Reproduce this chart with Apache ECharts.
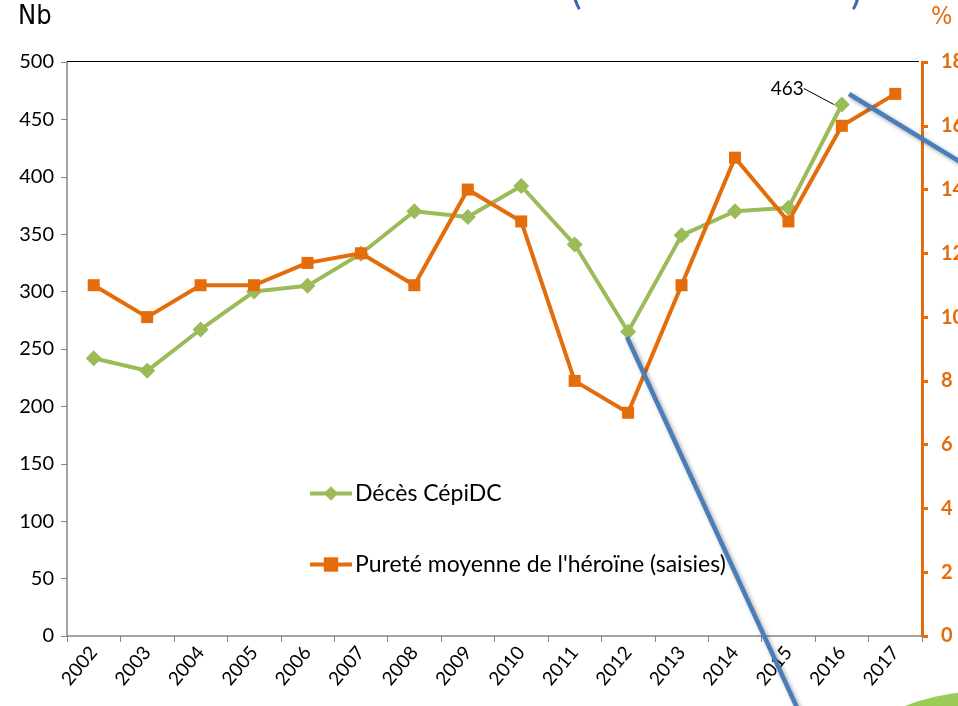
<!DOCTYPE html>
<html>
<head>
<meta charset="utf-8">
<script src="https://cdn.jsdelivr.net/npm/echarts@6/dist/echarts.min.js"></script>
<style>
html,body{margin:0;padding:0;background:#fff;}
#chart{width:958px;height:706px;}
</style>
</head>
<body>
<div id="chart"></div>
<script>
const years = ['2002','2003','2004','2005','2006','2007','2008','2009','2010','2011','2012','2013','2014','2015','2016','2017'];
const deces = [242, 231, 267, 300, 305, 333, 370, 365, 392, 341, 265, 349, 370, 373, 463, null];
const purete = [11, 10, 11, 11, 11.7, 12, 11, 14, 13, 8, 7, 11, 15, 13, 16, 17];
const leftTicks = [0, 500, 50];
const rightTicks = [0, 18, 2];
const labelledIndex = 14;

const GREEN = '#9BBB59';
const ORANGE = '#E46C0A';
const BLUE = '#4A7EBB';
const FONT = 'Lato';
const NARROW = '"Liberation Sans Narrow", "DejaVu Sans Condensed", "Liberation Sans", sans-serif';

const decesData = deces.map((v, i) => i === labelledIndex ? {
  value: v,
  label: { show: true, position: 'left', distance: 4, fontSize: 19, color: '#000', fontFamily: FONT, formatter: '{c}' },
  labelLine: { show: true, lineStyle: { color: '#000', width: 1 } }
} : v);

const chart = echarts.init(document.getElementById('chart'));
chart.setOption({
  animation: false,
  backgroundColor: '#fff',
  textStyle: { fontFamily: FONT },
  grid: { left: 67, right: 36, top: 62, bottom: 70, show: false, containLabel: false, outerBoundsMode: 'none' },
  legend: {
    orient: 'vertical',
    left: 303,
    top: 477,
    itemGap: 48,
    itemWidth: 42,
    itemHeight: 18,
    lineStyle: { width: 4 },
    textStyle: { fontFamily: FONT, fontSize: 23, color: '#000', padding: [0, 0, 0, -2] },
    data: ['Décès CépiDC', "Pureté moyenne de l'héroïne (saisies)"]
  },
  xAxis: {
    type: 'category',
    data: years,
    boundaryGap: true,
    axisLine: { lineStyle: { color: '#868686', width: 1.5 } },
    axisTick: { show: true, alignWithLabel: false, length: 6, lineStyle: { color: '#868686' } },
    axisLabel: { rotate: 50, fontSize: 19, color: '#000', fontFamily: FONT, margin: 13, interval: 0 },
    splitLine: { show: false }
  },
  yAxis: [
    {
      type: 'value',
      min: leftTicks[0], max: leftTicks[1], interval: leftTicks[2],
      axisLine: { show: true, lineStyle: { color: '#868686', width: 1.5 } },
      axisTick: { show: true, length: 6, lineStyle: { color: '#868686' } },
      axisLabel: { fontSize: 20, color: '#000', fontFamily: FONT, margin: 13 },
      splitLine: { show: false }
    },
    {
      type: 'value',
      min: rightTicks[0], max: rightTicks[1], interval: rightTicks[2],
      position: 'right',
      axisLine: { show: true, lineStyle: { color: ORANGE, width: 3 } },
      axisTick: { show: true, inside: false, length: 6, lineStyle: { color: ORANGE, width: 3 } },
      axisLabel: { fontSize: 20, fontWeight: 'bold', color: ORANGE, fontFamily: FONT, margin: 19 },
      splitLine: { show: false }
    }
  ],
  series: [
    {
      name: 'Décès CépiDC',
      type: 'line',
      yAxisIndex: 0,
      data: decesData,
      color: GREEN,
      symbol: 'diamond',
      symbolSize: 16,
      lineStyle: { width: 4, color: GREEN },
      itemStyle: { color: GREEN },
      labelLayout: function (p) {
        if (p.dataIndex === labelledIndex) return { dx: -26, dy: -16 };
        return {};
      },
      z: 3
    },
    {
      name: "Pureté moyenne de l'héroïne (saisies)",
      type: 'line',
      yAxisIndex: 1,
      data: purete,
      color: ORANGE,
      symbol: 'rect',
      symbolSize: 12,
      lineStyle: { width: 4, color: ORANGE },
      itemStyle: { color: ORANGE },
      z: 4
    }
  ],
  graphic: [
    { type: 'rect', left: 67, top: 61, shape: { width: 852, height: 1 }, style: { fill: '#000' }, silent: true, z: 50 },
    { type: 'text', left: 18, top: 3, style: { text: 'Nb', fontSize: 27, fill: '#000', fontFamily: NARROW }, z: 50 },
    { type: 'text', left: 931, top: 5, style: { text: '%', fontSize: 25, fill: ORANGE, fontFamily: NARROW }, z: 50 },
    { type: 'line', shape: { x1: 627, y1: 337, x2: 799, y2: 712 },
      style: { stroke: BLUE, lineWidth: 4.5, shadowColor: 'rgba(0,0,0,0.35)', shadowBlur: 4, shadowOffsetX: 2, shadowOffsetY: 2 }, z: 100 },
    { type: 'line', shape: { x1: 849, y1: 94, x2: 962, y2: 163 },
      style: { stroke: BLUE, lineWidth: 4.5, shadowColor: 'rgba(0,0,0,0.35)', shadowBlur: 4, shadowOffsetX: 2, shadowOffsetY: 2 }, z: 100 },
    { type: 'text', left: 571, top: -29, style: { text: '(', fontSize: 40, fill: '#3A6BA8', fontFamily: FONT }, z: 100 },
    { type: 'text', left: 851, top: -29, style: { text: ')', fontSize: 40, fill: '#3A6BA8', fontFamily: FONT }, z: 100 },
    { type: 'ellipse', shape: { cx: 1000, cy: 740, rx: 130, ry: 50 }, style: { fill: '#9BCB59' }, z: 100 }
  ]
});
</script>
</body>
</html>
